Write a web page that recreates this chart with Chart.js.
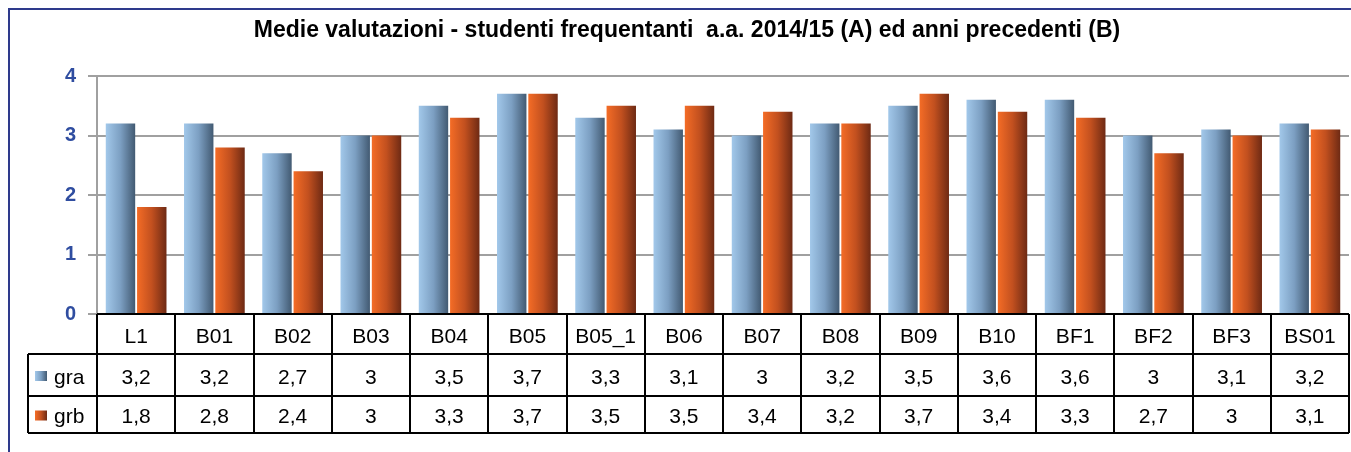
<!DOCTYPE html>
<html>
<head>
<meta charset="utf-8">
<script src="https://cdn.jsdelivr.net/npm/chart.js@4.4.1/dist/chart.umd.min.js"></script>
<style>
html,body{margin:0;padding:0;background:#fff;}
#wrap{width:1351px;height:452px;position:relative;}
</style>
</head>
<body>
<div id="wrap"><canvas id="c" width="1351" height="452"></canvas></div>
<script>
const titleText = 'Medie valutazioni - studenti frequentanti  a.a. 2014/15 (A) ed anni precedenti (B)';
const categories = ['L1','B01','B02','B03','B04','B05','B05_1','B06','B07','B08','B09','B10','BF1','BF2','BF3','BS01'];
const seriesNames = ['gra','grb'];
const graValues = [3.2,3.2,2.7,3,3.5,3.7,3.3,3.1,3,3.2,3.5,3.6,3.6,3,3.1,3.2];
const grbValues = [1.8,2.8,2.4,3,3.3,3.7,3.5,3.5,3.4,3.2,3.7,3.4,3.3,2.7,3,3.1];
const yTicks = [0,1,2,3,4];

const CAT_PCT = 0.8, BAR_PCT = 0.94;
const gradStops = [
  ['#a2c8ea','#7c9fc2','#425a72'],
  ['#f46c26','#c2501f','#6e2a14']
];
const FONT = '"Liberation Sans", Arial, sans-serif';

function barGradient(ctx){
  const chart = ctx.chart;
  const xs = chart.scales && chart.scales.x;
  const di = ctx.datasetIndex;
  if(!xs || ctx.dataIndex === undefined) return gradStops[di][1];
  const catW = xs.width / categories.length;
  const slot = catW * CAT_PCT / 2;
  const c = xs.getPixelForValue(ctx.dataIndex) + (di === 0 ? -slot/2 : slot/2);
  const w = slot * BAR_PCT;
  if(!isFinite(c) || !isFinite(w) || w <= 0) return gradStops[di][1];
  const g = chart.ctx.createLinearGradient(c - w/2, 0, c + w/2, 0);
  g.addColorStop(0, gradStops[di][0]);
  g.addColorStop(0.5, gradStops[di][1]);
  g.addColorStop(1, gradStops[di][2]);
  return g;
}

const fmt = v => String(v).replace('.', ',');

const tablePlugin = {
  id: 'tablePlugin',
  afterDraw(chart){
    const ctx = chart.ctx;
    const xs = chart.scales.x;
    const area = chart.chartArea;
    const n = categories.length;
    const catW = xs.width / n;
    const r0 = area.bottom, r1 = r0 + 40, r2 = r1 + 42, r3 = r2 + 37;
    const leftCol = 28;
    ctx.save();
    ctx.strokeStyle = '#2e3a8c';
    ctx.lineWidth = 2;
    ctx.beginPath();
    ctx.moveTo(9, chart.height + 5);
    ctx.lineTo(9, 9);
    ctx.lineTo(chart.width + 5, 9);
    ctx.stroke();
    ctx.fillStyle = '#000';
    ctx.font = 'bold 23px ' + FONT;
    ctx.textAlign = 'center';
    ctx.textBaseline = 'middle';
    ctx.fillText(titleText, 687, 31);
    ctx.strokeStyle = '#000';
    ctx.lineWidth = 2;
    ctx.beginPath();
    ctx.moveTo(area.left, r0); ctx.lineTo(area.right, r0);
    [r1, r2, r3].forEach(y => { ctx.moveTo(leftCol, y); ctx.lineTo(area.right, y); });
    for(let i = 0; i <= n; i++){
      const x = Math.round(area.left + i * catW);
      ctx.moveTo(x, r0); ctx.lineTo(x, r3);
    }
    ctx.moveTo(leftCol, r1); ctx.lineTo(leftCol, r3);
    ctx.stroke();
    ctx.font = '21px ' + FONT;
    ctx.fillStyle = '#000';
    const rows = [graValues, grbValues];
    for(let i = 0; i < n; i++){
      const cx = xs.getPixelForValue(i);
      ctx.fillText(categories[i], cx, (r0 + r1)/2 + 3);
      ctx.fillText(fmt(rows[0][i]), cx, (r1 + r2)/2 + 3);
      ctx.fillText(fmt(rows[1][i]), cx, (r2 + r3)/2 + 3);
    }
    const rowMid = [(r1 + r2)/2, (r2 + r3)/2];
    for(let d = 0; d < 2; d++){
      const y = rowMid[d];
      const g = ctx.createLinearGradient(35, 0, 47, 0);
      g.addColorStop(0, gradStops[d][0]);
      g.addColorStop(0.5, gradStops[d][1]);
      g.addColorStop(1, gradStops[d][2]);
      ctx.fillStyle = g;
      ctx.fillRect(35, y - 4, 12, 10);
      ctx.fillStyle = '#000';
      ctx.textAlign = 'left';
      ctx.fillText(seriesNames[d], 54, y + 3);
    }
    ctx.restore();
  }
};

new Chart(document.getElementById('c'), {
  type: 'bar',
  data: {
    labels: categories,
    datasets: [
      { label: seriesNames[0], data: graValues, backgroundColor: barGradient, borderWidth: 0,
        categoryPercentage: CAT_PCT, barPercentage: BAR_PCT },
      { label: seriesNames[1], data: grbValues, backgroundColor: barGradient, borderWidth: 0,
        categoryPercentage: CAT_PCT, barPercentage: BAR_PCT }
    ]
  },
  options: {
    responsive: false,
    animation: false,
    layout: { padding: { top: 76, bottom: 138, left: 0, right: 2 } },
    plugins: { legend: { display: false }, title: { display: false }, tooltip: { enabled: false } },
    scales: {
      x: { display: false, offset: true, grid: { display: false } },
      y: {
        min: 0, max: 4,
        afterFit(scale){ scale.width = 97; },
        afterBuildTicks(scale){ scale.ticks = yTicks.map(v => ({ value: v })); },
        ticks: { color: '#2f4da0', font: { family: FONT, size: 20, weight: 'bold' }, padding: 12 },
        grid: { color: '#a0a0a0', lineWidth: 2, tickLength: 9, drawOnChartArea: true },
        border: { color: '#a0a0a0', width: 2 }
      }
    }
  },
  plugins: [tablePlugin]
});
</script>
</body>
</html>
